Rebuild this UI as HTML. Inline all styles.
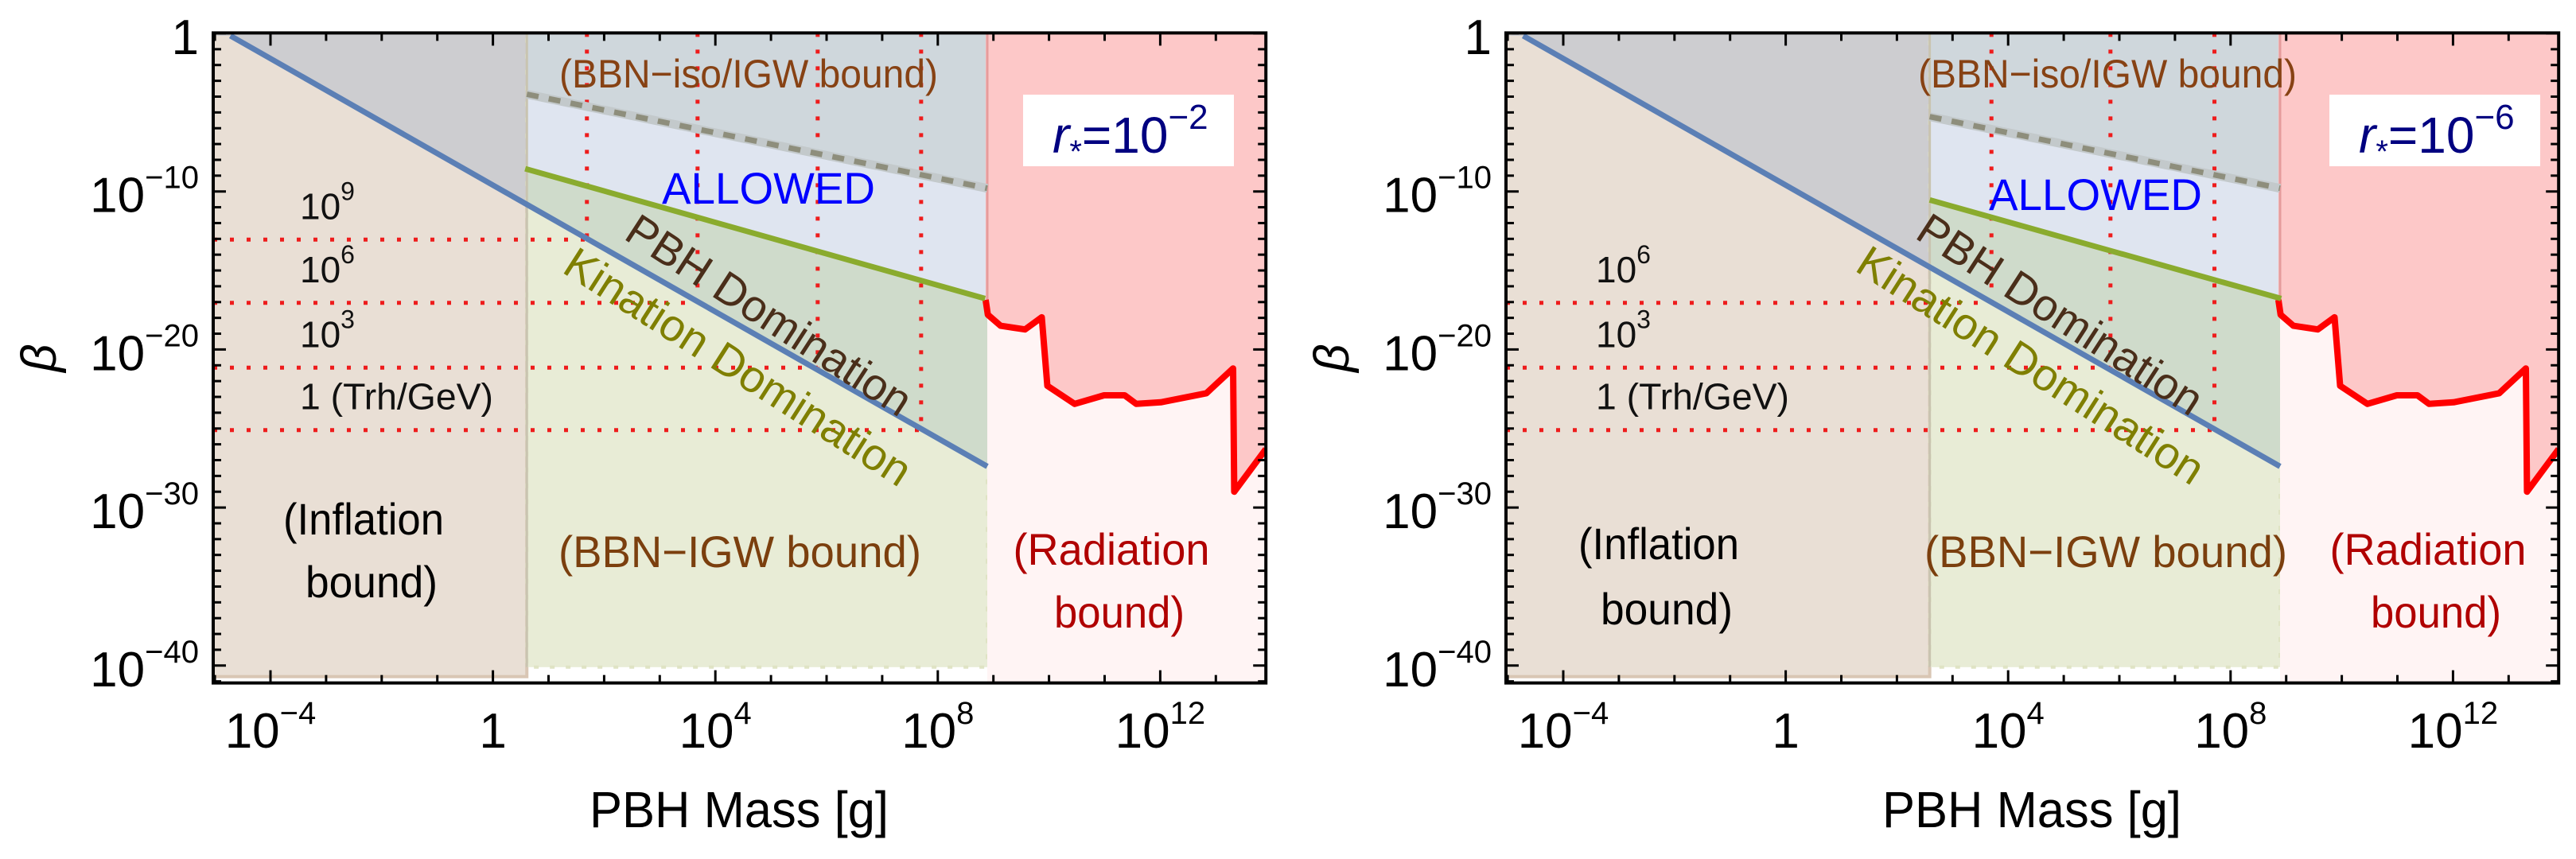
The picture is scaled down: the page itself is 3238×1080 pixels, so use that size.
<!DOCTYPE html>
<html><head><meta charset="utf-8"><title>PBH beta bounds</title>
<style>
html,body{margin:0;padding:0;background:#fff;}
svg{display:block;font-family:"Liberation Sans",Arial,sans-serif;}
</style></head>
<body>
<svg id="fig" width="3238" height="1080" viewBox="0 0 3238 1080" xmlns="http://www.w3.org/2000/svg"></svg>
<script>
// ---- data (log10 values) ----
const xTickVals = [-4, 0, 4, 8, 12];
const xTickLabels = [["10","\u22124"],["1",""],["10","4"],["10","8"],["10","12"]];
const yTickVals = [0, -10, -20, -30, -40];
const yTickLabels = [["1",""],["10","\u221210"],["10","\u221220"],["10","\u221230"],["10","\u221240"]];
const blueX = [-4.72, 8.89];
const blueY = [-0.15, -27.4];
const inflBoundX = [0.61, 2.59];
const dashedXL = [0.61, 8.89];
const dashedYL = [-3.85, -9.8];
const dashedXR = [2.59, 8.89];
const dashedYR = [-5.27, -9.8];
const greenXL = [0.58, 8.85];
const greenYL = [-8.56, -16.78];
const greenXR = [2.59, 8.91];
const greenYR = [-10.54, -16.78];
const trhLabelsL = ["9", "6", "3", "1"];
const trhXL = [1.69, 3.68, 5.84, 7.70];
const trhYL = [-13.05, -17.05, -21.15, -25.1];
const trhLabelsR = ["6", "3", "1"];
const trhXR = [3.70, 5.84, 7.71];
const trhYR = [-17.05, -21.15, -25.1];
const radX = [8.86, 8.9, 9.13, 9.57, 9.87, 9.97, 10.46, 10.99, 11.36, 11.57, 12.01, 12.83, 13.31, 13.33, 13.9];
const radY = [-16.86, -17.8, -18.5, -18.73, -17.96, -22.3, -23.44, -22.9, -22.9, -23.44, -23.34, -22.77, -21.2, -29.0, -26.3];
const rStarExp = ["\u22122", "\u22126"];
const boundaryX = 8.89;
const xMin = -5.03, xMax = 13.9, yTop = 0.03, yBot = -41.1, inflBot = -40.7, kinBot = -40.1;

const NS = "http://www.w3.org/2000/svg";
const svg = document.getElementById("fig");
function mk(tag, attrs, parent) {
  const e = document.createElementNS(NS, tag);
  for (const k in attrs) e.setAttribute(k, attrs[k]);
  (parent || svg).appendChild(e);
  return e;
}
function lerp(xs, ys, x) { return ys[0] + (ys[1] - ys[0]) * (x - xs[0]) / (xs[1] - xs[0]); }

function panel(p) {
  const ox = p === 0 ? 0 : 1625;
  const sx = x => ox + 340 + (x + 4) * 69.9;
  const sy = y => 42 - y * 19.87;
  const g = mk("g", {});
  
  
  const L = sx(xMin), R = sx(xMax), T = sy(yTop), B = sy(yBot);
  const cid = "clip" + p;
  const cp = mk("clipPath", { id: cid }, g);
  mk("rect", { x: L, y: T, width: R - L, height: B - T }, cp);
  const pg = mk("g", { "clip-path": "url(#" + cid + ")" }, g);
  const xb = inflBoundX[p];
  const dX = p === 0 ? dashedXL : dashedXR, dY = p === 0 ? dashedYL : dashedYR;
  const gX = p === 0 ? greenXL : greenXR, gY = p === 0 ? greenYL : greenYR;
  const poly = (pts, fill, name) => {
    const e = mk("polygon", { points: pts.map(q => q[0].toFixed(1) + "," + q[1].toFixed(1)).join(" "), fill: fill }, pg);
    
    
    return e;
  };
  const inf = mk("rect", { x: L, y: T, width: sx(xb) - L, height: sy(inflBot) - T, fill: "#e9dfd5", stroke: "#d9c6b4", "stroke-width": 4 }, pg);
  
  
  poly([[sx(blueX[0]), T], [sx(xb), T], [sx(xb), sy(lerp(blueX, blueY, xb))], [sx(blueX[0]), sy(blueY[0])], [L, sy(blueY[0])]], "#cdcdd0", "excluded-gray-region");
  const kin = mk("rect", { x: sx(xb), y: T, width: sx(boundaryX) - sx(xb), height: sy(kinBot) - T, fill: "#e8ecd6", stroke: "#dfe3c4", "stroke-width": 4, "stroke-dasharray": "6 14" }, pg);
  
  
  poly([[sx(xb), T], [sx(boundaryX), T], [sx(boundaryX), sy(lerp(blueX, blueY, boundaryX))], [sx(xb), sy(lerp(blueX, blueY, xb))]], "#cfdbcb", "pbh-domination-region");
  poly([[sx(xb), T], [sx(boundaryX), T], [sx(boundaryX), sy(lerp(gX, gY, boundaryX))], [sx(xb), sy(lerp(gX, gY, xb))]], "#dfe5f0", "allowed-region");
  poly([[sx(xb), T], [sx(boundaryX), T], [sx(boundaryX), sy(lerp(dX, dY, boundaryX))], [sx(xb), sy(lerp(dX, dY, xb))]], "#cfd7dc", "bbn-iso-region");
  const ed = mk("line", { x1: sx(xb), y1: T, x2: sx(xb), y2: sy(kinBot), stroke: "#c9c4b0", "stroke-width": 3 }, pg);
  
  
  const rad = mk("rect", { x: sx(boundaryX), y: T, width: R - sx(boundaryX), height: B - T, fill: "#fff4f4" }, pg);
  
  
  const rpts = [[sx(radX[0]), T]];
  for (let i = 0; i < radX.length; i++) rpts.push([sx(radX[i]), sy(radY[i])]);
  rpts.push([R + 5, sy(radY[radY.length - 1])], [R + 5, T]);
  poly(rpts, "#fdc8c8", "radiation-excluded-region");
  const rv = mk("line", { x1: sx(boundaryX), y1: T, x2: sx(boundaryX), y2: sy(radY[0]), stroke: "#e59c9c", "stroke-width": 3 }, pg);
  
  
  const rc = mk("polyline", { points: radX.map((x, i) => sx(x).toFixed(1) + "," + sy(radY[i]).toFixed(1)).join(" "), fill: "none", stroke: "#ff0000", "stroke-width": 8, "stroke-linejoin": "round" }, pg);
  
  
  const tl = p === 0 ? trhLabelsL : trhLabelsR, tx = p === 0 ? trhXL : trhXR, ty = p === 0 ? trhYL : trhYR;
  for (let i = 0; i < tx.length; i++) {
    const h = mk("line", { x1: L, y1: sy(ty[i]), x2: sx(tx[i]), y2: sy(ty[i]), stroke: "#ee1c1c", "stroke-width": 5, "stroke-dasharray": "5 16" }, pg);
    
    
    const v = mk("line", { x1: sx(tx[i]), y1: T, x2: sx(tx[i]), y2: sy(ty[i]), stroke: "#ee1c1c", "stroke-width": 5, "stroke-dasharray": "5 16" }, pg);
    
    
    const isOne = tl[i] === "1";
    const la = { x: ox + (p === 0 ? 377 : 381), y: sy(ty[i]) - 26, "font-size": 46, fill: "#111" };
    if (isOne) { la.textLength = 243; la.lengthAdjust = "spacingAndGlyphs"; }
    const lbl = mk("text", la, g);
    
    
    if (isOne) {
      lbl.textContent = "1 (Trh/GeV)";
    } else {
      const a = mk("tspan", {}, lbl); a.textContent = "10";
      const b = mk("tspan", { dy: -24, "font-size": 32 }, lbl); b.textContent = tl[i];
    }
  }
  const bl = mk("line", { x1: sx(blueX[0]), y1: sy(blueY[0]), x2: sx(blueX[1]), y2: sy(blueY[1]), stroke: "#5b7fb5", "stroke-width": 7 }, pg);
  
  
  const gl = mk("line", { x1: sx(gX[0]), y1: sy(gY[0]), x2: sx(gX[1]), y2: sy(gY[1]), stroke: "#8aab2e", "stroke-width": 7 }, pg);
  
  
  const dh = mk("line", { x1: sx(dX[0]), y1: sy(dY[0]), x2: sx(dX[1]), y2: sy(dY[1]), stroke: "#c3c9cb", "stroke-width": 11 }, pg);
  
  
  const dl = mk("line", { x1: sx(dX[0]), y1: sy(dY[0]), x2: sx(dX[1]), y2: sy(dY[1]), stroke: "#8e8e7c", "stroke-width": 7, "stroke-dasharray": "15 13" }, pg);
  
  
  const fr = mk("rect", { x: L, y: T, width: R - L, height: B - T, fill: "none", stroke: "#000", "stroke-width": 4 }, g);
  
  
  for (let d = -5; d <= 13; d++) {
    const len = xTickVals.includes(d) ? 16 : 10;
    const t1 = mk("line", { x1: sx(d), y1: B, x2: sx(d), y2: B - len, stroke: "#000", "stroke-width": 3 }, g);
    
    
    const t2 = mk("line", { x1: sx(d), y1: T, x2: sx(d), y2: T + len, stroke: "#000", "stroke-width": 3 }, g);
    
    
  }
  for (let d = 0; d >= -41; d--) {
    const len = yTickVals.includes(d) ? 16 : 10;
    const t1 = mk("line", { x1: L, y1: sy(d), x2: L + len, y2: sy(d), stroke: "#000", "stroke-width": 3 }, g);
    
    
    const t2 = mk("line", { x1: R, y1: sy(d), x2: R - len, y2: sy(d), stroke: "#000", "stroke-width": 3 }, g);
    
    
  }
  xTickVals.forEach((v, i) => {
    const t = mk("text", { x: sx(v), y: 940, "font-size": 62, "text-anchor": "middle", fill: "#000" }, g);
    
    
    const a = mk("tspan", {}, t); a.textContent = xTickLabels[i][0];
    if (xTickLabels[i][1]) { const b = mk("tspan", { dy: -30, "font-size": 40 }, t); b.textContent = xTickLabels[i][1]; }
  });
  yTickVals.forEach((v, i) => {
    const t = mk("text", { x: ox + 250, y: sy(v) + 26, "font-size": 62, "text-anchor": "end", fill: "#000" }, g);
    
    
    const a = mk("tspan", {}, t); a.textContent = yTickLabels[i][0];
    if (yTickLabels[i][1]) { const b = mk("tspan", { dy: -30, "font-size": 40 }, t); b.textContent = yTickLabels[i][1]; }
  });
  const xt = mk("text", { x: ox + 929, y: 1040, "font-size": 64, "text-anchor": "middle", fill: "#000", textLength: 376, lengthAdjust: "spacingAndGlyphs" }, g);
  
  
  xt.textContent = "PBH Mass [g]";
  const yt = mk("text", { x: 0, y: 0, "font-size": 62, "font-style": "italic", "text-anchor": "middle", fill: "#000", transform: "translate(" + (ox + 70) + ",450) rotate(-90)" }, g);
  
  
  yt.textContent = "\u03B2";
  const lab = (txt, x, y, size, color, name, len, rot) => {
    const a = { x: x, y: y, "font-size": size, "text-anchor": "middle", fill: color };
    if (len) { a.textLength = len; a.lengthAdjust = "spacingAndGlyphs"; }
    if (rot) { a.transform = "rotate(" + rot + " " + x + " " + y + ")"; a["dominant-baseline"] = "central"; }
    const t = mk("text", a, g);
    
    
    t.textContent = txt;
    return t;
  };
  const P = p === 0 ? {
    iso: [941, 476], allowed: [966, 256], pbh: [967, 396], kin: [928, 461], inf1: [457, 672], inf2: [467, 751], bbn: [930, 713], rad1: [1397, 710], rad2: [1407, 789], box: 1286
  } : {
    iso: [2649, 476], allowed: [2634, 264], pbh: [2590, 395], kin: [2553, 459], inf1: [2085, 703], inf2: [2095, 785], bbn: [2647, 713], rad1: [3052, 710], rad2: [3062, 789], box: 2928
  };
  lab("(BBN\u2212iso/IGW bound)", P.iso[0], 110, 50, "#874214", "bbn-iso-label", P.iso[1]);
  lab("ALLOWED", P.allowed[0], P.allowed[1], 56, "#0000ff", "allowed-label", 268);
  lab("PBH Domination", P.pbh[0], P.pbh[1], 56, "#4a2e1a", "pbh-domination-label", 415, 33);
  lab("Kination Domination", P.kin[0], P.kin[1], 56, "#7f7f00", "kination-domination-label", 505, 32.6);
  lab("(Inflation", P.inf1[0], P.inf1[1], 56, "#000", "inflation-label", 202);
  lab("bound)", P.inf2[0], P.inf2[1], 56, "#000", "inflation-label-2", 166);
  lab("(BBN\u2212IGW bound)", P.bbn[0], P.bbn[1], 56, "#7b3f0e", "bbn-igw-label", 456);
  lab("(Radiation", P.rad1[0], P.rad1[1], 56, "#b00000", "radiation-label", 247);
  lab("bound)", P.rad2[0], P.rad2[1], 56, "#b00000", "radiation-label-2", 164);
  const bx = mk("rect", { x: P.box, y: 119, width: 265, height: 90, fill: "#fff" }, g);
  
  
  const rt = mk("text", { x: P.box + 37, y: 192, "font-size": 64, fill: "#000080" }, g);
  
  
  const r1 = mk("tspan", { "font-style": "italic" }, rt); r1.textContent = "r";
  const r2 = mk("tspan", { dy: 12, "font-size": 40 }, rt); r2.textContent = "*";
  const r3 = mk("tspan", { dy: -12 }, rt); r3.textContent = "=10";
  const r4 = mk("tspan", { dy: -30, "font-size": 44 }, rt); r4.textContent = rStarExp[p];
}
panel(0);
panel(1);
</script>
</body></html>
